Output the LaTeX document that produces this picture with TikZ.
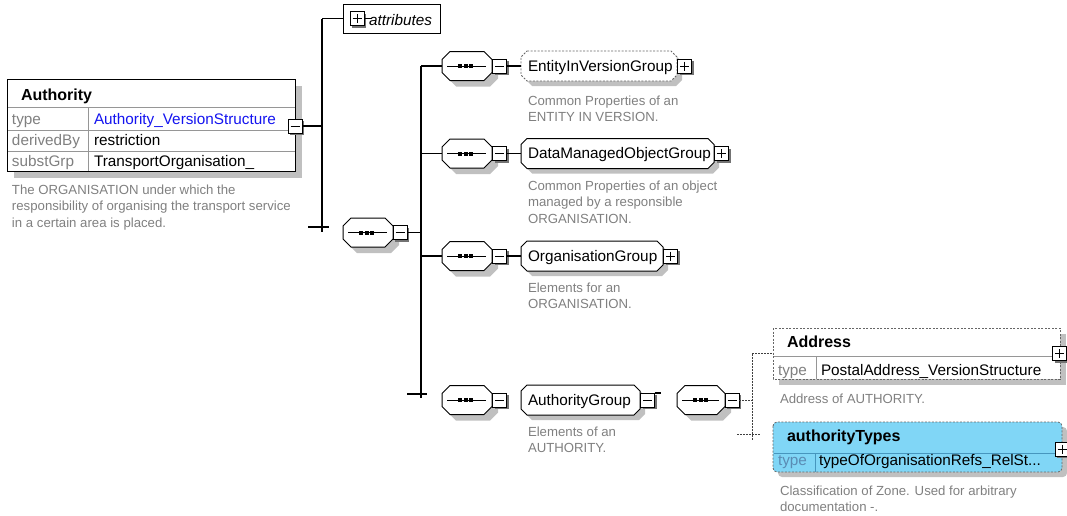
\documentclass[tikz,border=0pt]{standalone}
\usepackage{fontspec}
\setmainfont{Liberation Sans}
\definecolor{descgray}{RGB}{128,128,128}
\definecolor{shadowgray}{RGB}{192,192,192}
\definecolor{gridgray}{RGB}{150,150,150}
\definecolor{keygray}{RGB}{128,128,128}
\definecolor{typeblue}{RGB}{20,20,240}
\definecolor{atfill}{RGB}{128,214,246}
\definecolor{atline}{RGB}{70,150,190}
\definecolor{atkey}{RGB}{90,140,180}

% chamfered outline: x1 y1 x2 y2 chamfer style
\newcommand\chamf[6]{\path[#6] (#1+#5,#2) -- (#3-#5,#2) -- (#3,#2+#5) -- (#3,#4-#5) -- (#3-#5,#4) -- (#1+#5,#4) -- (#1,#4-#5) -- (#1,#2+#5) -- cycle;}

% expand/collapse toggles: name, centre x, centre y
\newcommand\togminus[3]{%
  \fill[togshade] (#2-5,#3-5) rectangle (#2+9,#3+9);
  \node[togbox] (#1) at (#2,#3) {};
  \draw[line width=0.9pt] (#2-4.5,#3) -- (#2+4.5,#3);}
\newcommand\togplus[3]{\togminus{#1}{#2}{#3}\draw[line width=0.9pt] (#2,#3-4.5) -- (#2,#3+4.5);}

% sequence compositor: name, left x, centre y, width
\newcommand\seqc[4]{%
  \chamf{#2+6}{#3-14.5+6}{#2+#4+6}{#3+14.5+6}{8}{shade}
  \chamf{#2}{#3-14.5}{#2+#4}{#3+14.5}{8}{draw=black,fill=white,line width=1pt}
  \node[minimum width=#4pt,minimum height=29pt,anchor=west] (#1) at (#2,#3) {};
  \draw[line width=1pt] (#2+5,#3) -- (#2+#4-6,#3);
  \fill (#2+16,#3-2) rectangle ++(4,4);
  \fill (#2+21.5,#3-2) rectangle ++(4,4);
  \fill (#2+27,#3-2) rectangle ++(4,4);}

% model group box: name, left x, width, centre y, border style, label
\newcommand\grp[6]{%
  \chamf{#2+5}{#4-15+5}{#2+#3+5}{#4+15+5}{6}{shade}
  \chamf{#2}{#4-15}{#2+#3}{#4+15}{6}{fill=white,#5}
  \node[minimum width=#3pt,minimum height=30pt,anchor=west] (#1) at (#2,#4) {};
  \node[lbl] (#1-l) at (#2+7,#4+5.3) {#6};}

\begin{document}
\begin{tikzpicture}[x=1pt,y=-1pt,
  every node/.style={inner sep=0pt,outer sep=0pt},
  lbl/.style={anchor=base west,font=\fontsize{15.3}{18}\selectfont},
  hdr/.style={anchor=base west,font=\fontsize{16}{19}\selectfont\bfseries},
  desc/.style={anchor=base west,text=descgray,font=\fontsize{13.2}{16.5}\selectfont},
  shade/.style={fill=shadowgray,draw=none},
  togshade/.style={fill=black!55},
  togbox/.style={draw=black,fill=white,line width=0.9pt,minimum size=14pt},
  conn/.style={line width=1.1pt},
  dconn/.style={line width=0.8pt,draw=black!75,dash pattern=on 2pt off 1pt},
  optbox/.style={draw=black!60,line width=0.8pt,dash pattern=on 2pt off 1.5pt},
  reqbox/.style={draw=black,line width=1pt}]
\useasboundingbox (0,0) rectangle (1067,515);

% ---------- Authority element ----------
\fill[shadowgray] (14,86) rectangle (302,178);
\node[fill=white,minimum width=288pt,minimum height=92pt,anchor=north west] (auth) at (7,79) {};
\draw[gridgray] (7.5,107) -- (294.5,107) (7.5,130) -- (294.5,130) (7.5,151) -- (294.5,151) (88,107) -- (88,170.5);
\draw[line width=1pt] (auth.north west) rectangle (auth.south east);
\node[hdr] (authN) at (21,100) {Authority};
\node[lbl,text=keygray] (authK1) at (12,124) {type};
\node[lbl,text=typeblue] (authV1) at (94,124) {Authority\_VersionStructure};
\node[lbl,text=keygray] (authK2) at (12,145.5) {derivedBy};
\node[lbl] (authV2) at (94,145.5) {restriction};
\node[lbl,text=keygray] (authK3) at (12,166) {substGrp};
\node[lbl] (authV3) at (94,166) {TransportOrganisation\_};
\node[desc] (authD) at (12,194) {\vtop{\hbox{The ORGANISATION under which the}\hbox{responsibility of organising the transport service}\hbox{in a certain area is placed.}}};
\togminus{authT}{295}{126}

% ---------- attributes ----------
\node[draw=black,line width=1pt,fill=white,minimum width=97pt,minimum height=29pt,anchor=north west] (attr) at (343,4) {};
\togplus{attrT}{357}{18.5}
\draw[line width=0.9pt] (attrT.east) -- ++(7,0);
\node[lbl,font=\fontsize{15.3}{18}\selectfont\itshape] (attrL) at (369,25.5) {attributes};

% ---------- first bus ----------
\coordinate (b1top) at (322,18.5);
\coordinate (b1bot) at (322,232);
\coordinate (b1tick) at (322,227);
\draw[conn] (b1top) -- (b1bot);
\draw[conn] (authT.east) -- (authT.east -| b1top);
\draw[conn] (b1top) -- (attr.west);
\draw[conn] ([xshift=-14pt]b1tick) -- ([xshift=7pt]b1tick);

% ---------- main sequence ----------
\seqc{seqM}{343}{232.5}{50}
\togminus{seqMT}{400}{232.5}

% ---------- model groups ----------
\seqc{sqA}{442}{66}{50}
\togminus{sqAT}{499.5}{66}
\grp{gA}{521}{156}{66}{optbox}{EntityInVersionGroup}
\togplus{gAT}{684.5}{66}
\node[desc] (gA-d) at (528,105) {\vtop{\hbox{Common Properties of an}\hbox{ENTITY IN VERSION.}}};

\seqc{sqB}{442}{153.5}{50}
\togminus{sqBT}{499.5}{153.5}
\grp{gB}{521}{193}{153.5}{reqbox}{DataManagedObjectGroup}
\togplus{gBT}{721.5}{153.5}
\node[desc] (gB-d) at (528,190) {\vtop{\hbox{Common Properties of an object}\hbox{managed by a responsible}\hbox{ORGANISATION.}}};

\seqc{sqC}{442}{256}{50}
\togminus{sqCT}{499.5}{256}
\grp{gC}{521}{142}{256}{reqbox}{OrganisationGroup}
\togplus{gCT}{670.5}{256}
\node[desc] (gC-d) at (528,292) {\vtop{\hbox{Elements for an}\hbox{ORGANISATION.}}};

\seqc{sqD}{442}{400}{50}
\togminus{sqDT}{499.5}{400}
\grp{gD}{521}{119}{400}{reqbox}{AuthorityGroup}
\togminus{gDT}{647.5}{400}
\node[desc] (gD-d) at (528,436) {\vtop{\hbox{Elements of an}\hbox{AUTHORITY.}}};

% ---------- second bus ----------
\coordinate (b2top) at (421,66);
\coordinate (b2bot) at (421,398);
\coordinate (b2tick) at (421,394);
\draw[conn] (seqMT.east) -- (seqMT.east -| b2top);
\draw[conn] (b2top) -- (b2bot);
\draw[conn] (b2top) -- (sqA.west);
\draw[conn] (sqB.west -| b2top) -- (sqB.west);
\draw[conn] (sqC.west -| b2top) -- (sqC.west);
\draw[conn] ([xshift=-14pt]b2tick) -- ([xshift=6pt]b2tick);
\draw[conn] (sqAT.east) -- (gA.west);
\draw[conn] (sqBT.east) -- (gB.west);
\draw[conn] (sqCT.east) -- (gC.west);
\draw[conn] (gDT.north east) -- ++(6,0);

% ---------- AuthorityGroup content ----------
\seqc{sqE}{677}{400}{48}
\togminus{sqET}{732}{400}

% Address
\fill[shadowgray] (779,334) rectangle (1066,385);
\node[fill=white,minimum width=287pt,minimum height=51pt,anchor=north west] (addr) at (773,328) {};
\draw[gridgray] (773.5,356) -- (1059.5,356) (816,356) -- (816,378.5);
\draw[optbox] (addr.north west) rectangle (addr.south east);
\node[hdr] (addrN) at (787,347.3) {Address};
\node[lbl,text=keygray] (addrK) at (778,375) {type};
\node[lbl] (addrV) at (821,375) {PostalAddress\_VersionStructure};
\node[desc] (addrD) at (780,403) {Address of AUTHORITY.};
\togplus{addrT}{1059.5}{353.5}

% authorityTypes
\fill[shadowgray,rounded corners=4pt] (778,427) rectangle (1067,477);
\node[fill=atfill,rounded corners=4pt,minimum width=289pt,minimum height=50pt,anchor=north west] (atyp) at (773,422) {};
\draw[atline] (773.5,453) -- (1061.5,453) (815,453) -- (815,471.5);
\draw[optbox,rounded corners=4pt] (atyp.north west) rectangle (atyp.south east);
\node[hdr] (atypN) at (787,441.7) {authorityTypes};
\node[lbl,text=atkey] (atypK) at (778,465) {type};
\node[lbl] (atypV) at (819,465) {typeOfOrganisationRefs\_RelSt...};
\node[desc] (atypD) at (780,495) {\vtop{\hbox{Classification of Zone. Used for arbitrary}\hbox{documentation -.}}};
\togplus{atypT}{1062}{449}

% ---------- third bus (dashed) ----------
\coordinate (b3top) at (752,353.5);
\coordinate (b3bot) at (752,440);
\coordinate (b3tick) at (752,434);
\draw[dconn] (sqET.east) -- (sqET.east -| b3top);
\draw[dconn] (b3top) -- (b3bot);
\draw[dconn] (b3top) -- (addr.west);
\draw[dconn] ([xshift=-15pt]b3tick) -- ([xshift=8pt]b3tick);
\end{tikzpicture}
\end{document}
